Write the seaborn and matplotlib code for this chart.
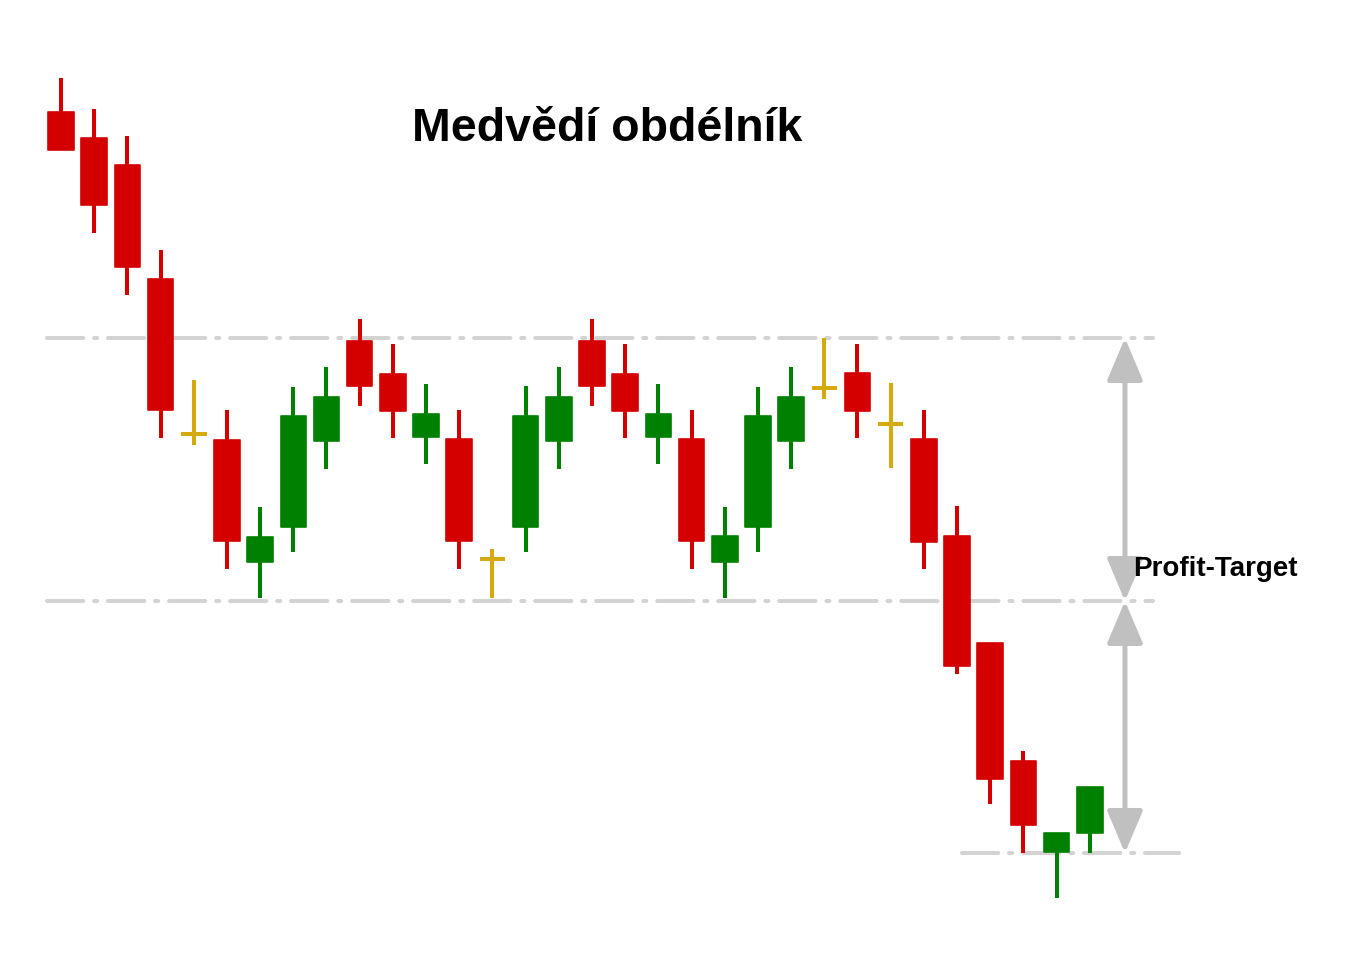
import matplotlib
matplotlib.use("Agg")
import matplotlib.pyplot as plt
import seaborn as sns
import numpy as np

sns.set_theme(style="white")
plt.rcParams['font.family'] = ['Liberation Sans', 'DejaVu Sans']

# ---- data (price units) ----
opens  = [888, 862, 835, 721, 566, 560, 438, 473, 559, 659, 626, 563, 561, 441, 473, 559, 659, 626, 563, 561, 438, 473, 559, 612, 627, 576, 561, 464, 357, 239, 148, 167]
highs  = [922, 891, 864, 750, 620, 590, 493, 613, 633, 681, 656, 616, 590, 451, 614, 633, 681, 656, 616, 590, 493, 613, 633, 662, 656, 617, 590, 494, 357, 249, 167, 213]
lows   = [850, 767, 705, 562, 555, 431, 402, 448, 531, 594, 562, 536, 431, 402, 448, 531, 594, 562, 536, 431, 402, 448, 531, 601, 562, 532, 431, 326, 196, 147, 102, 147]
closes = [850, 795, 733, 590, 566, 459, 463, 584, 603, 614, 589, 586, 459, 441, 584, 603, 614, 589, 586, 459, 464, 584, 603, 612, 589, 576, 458, 334, 221, 175, 167, 213]

resistance = 662
support = 399
target = 147
title = "Medvědí obdélník"
label = "Profit-Target"

RED = "#D40000"
GREEN = "#008000"
DOJI = "#D6A90E"
LINE = "#D3D3D3"
ARROW = "#C0C0C0"

fig = plt.figure(figsize=(13.46, 9.58), dpi=100)
ax = fig.add_axes([0, 0, 1, 1])
ax.set_xlim(-1.838, 38.72)
ax.set_ylim(42, 1000)
ax.axis('off')

x = np.arange(len(opens))
o = np.array(opens); c = np.array(closes); h = np.array(highs); l = np.array(lows)
colors = np.where(c > o, GREEN, np.where(c < o, RED, DOJI))
w = 0.77
wick_lw = 2.9

# level lines
dash = (0, (9, 2.7, 0.75, 2.7))
for lvl, x0, x1 in [(resistance, -0.42, 32.9), (support, -0.42, 32.9), (target, 27.15, 33.7)]:
    ax.plot([x0, x1], [lvl, lvl], color=LINE, lw=2.9, linestyle=dash,
            dash_capstyle='round', solid_capstyle='round', zorder=1)

# wicks
ax.vlines(x, l, h, colors=colors, lw=wick_lw, zorder=2)
# bodies
body = o != c
bottoms = np.minimum(o, c)
heights = np.abs(c - o)
ax.bar(x[body], heights[body], bottom=bottoms[body], width=w, color=colors[body],
       edgecolor=colors[body], linewidth=1.2, joinstyle='round', zorder=3)
# doji crosses
dj = ~body
ax.hlines(o[dj], x[dj] - w / 2, x[dj] + w / 2, colors=DOJI, lw=wick_lw, zorder=3)

# arrows
ax_x = 32.06
for a, b in [(resistance, support), (support, target)]:
    ax.annotate('', xy=(ax_x, a), xytext=(ax_x, b),
                arrowprops=dict(arrowstyle='<|-|>,head_length=26,head_width=11',
                                mutation_scale=1, color=ARROW, lw=3.6,
                                shrinkA=0, shrinkB=0), zorder=4)

ax.text(32.3, 424, label, fontsize=20, fontweight='bold', color='black',
        ha='left', va='baseline', zorder=5)
ax.text(16.46, 859, title, fontsize=33.5, fontweight='bold', color='black',
        ha='center', va='baseline', zorder=5)

fig.savefig("out.png", dpi=100, facecolor='white')
